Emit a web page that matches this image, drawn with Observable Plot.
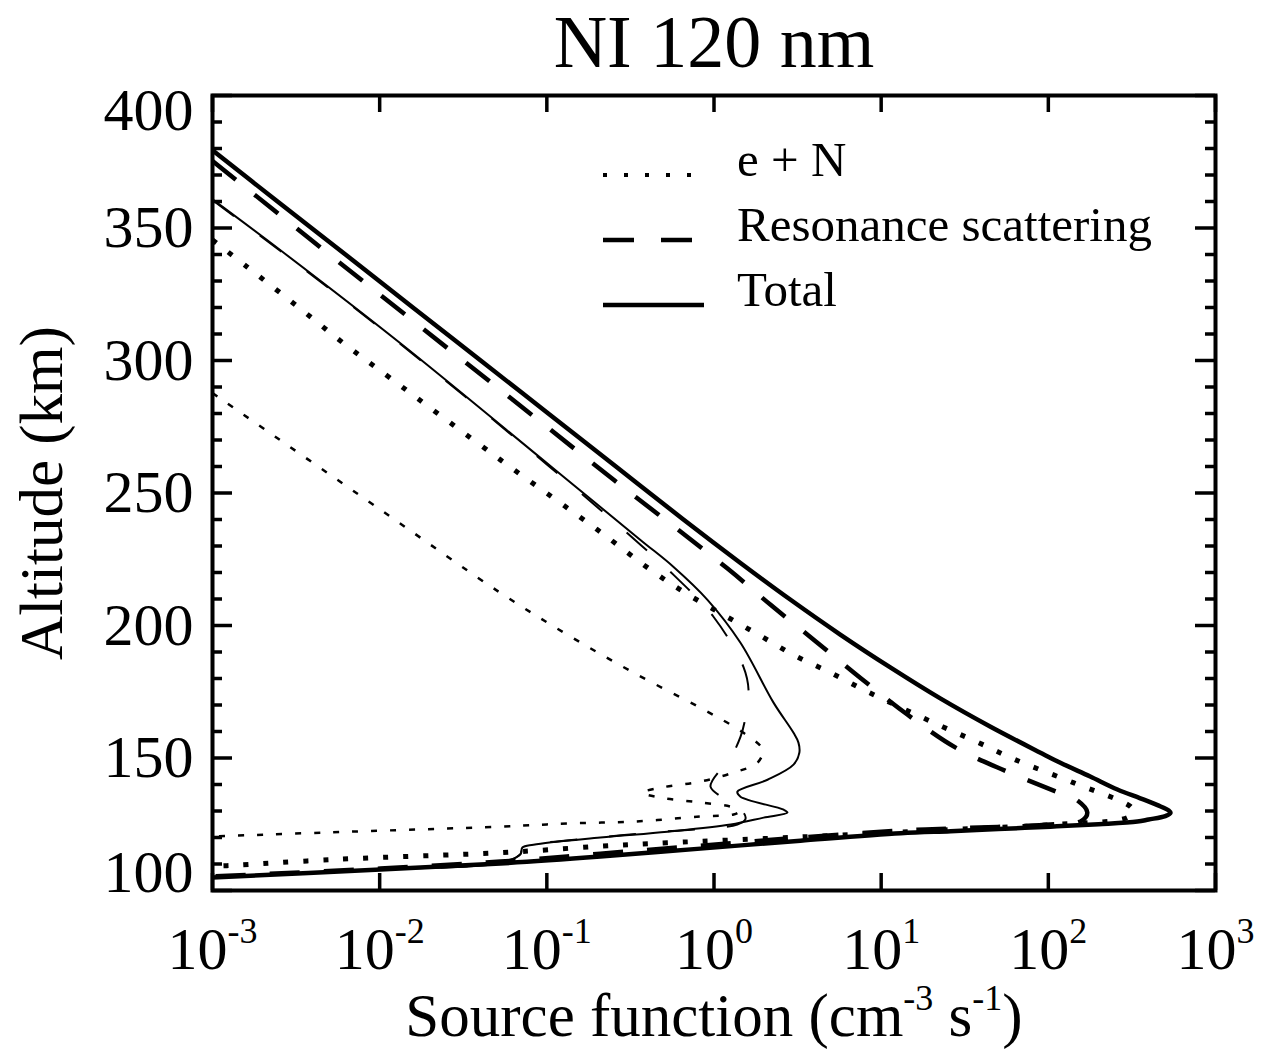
<!DOCTYPE html>
<html><head><meta charset="utf-8">
<script src="https://cdn.jsdelivr.net/npm/d3@7"></script>
<script src="https://cdn.jsdelivr.net/npm/@observablehq/plot@0.6"></script>
<style>
html,body{margin:0;padding:0;background:#fff;}
#chart{position:relative;width:1267px;height:1050px;}
svg{display:block;}
svg text{white-space:pre;}
</style></head><body><div id="chart"></div>
<script>
// ---- text ----
const chartTitle = "NI 120 nm";
const xTitle = "Source function (cm^{-3} s^{-1})";
const yTitle = "Altitude (km)";
const legendLabels = ["e + N", "Resonance scattering", "Total"];

// ---- ticks ----
const xTicks = [1e-3, 1e-2, 1e-1, 1, 1e1, 1e2, 1e3];
const xTickExp = ["-3", "-2", "-1", "0", "1", "2", "3"];
const yMajor = [100, 150, 200, 250, 300, 350, 400];
const yMinor = [110, 120, 130, 140, 160, 170, 180, 190, 210, 220, 230, 240, 260, 270, 280, 290, 310, 320, 330, 340, 360, 370, 380, 390];
const yLabelsMid = [150, 200, 250, 300, 350];
const yLabelTop = [400];
const yLabelBottom = [100];

// ---- series (thick = case 1, thin = case 2) ----
const totalA_val = [0.001, 0.00245, 0.00624, 0.0158, 0.0402, 0.102, 0.259, 0.656, 1.44, 2.87, 5.72, 11.4, 22.7, 45.1, 89.7, 118, 178, 259, 355, 450, 525, 538, 501, 398, 341, 200, 103, 50.1, 26.0, 13.1, 3.29, 0.830, 0.209, 0.0528, 0.0101, 0.001];
const totalA_alt = [379.3, 360, 340, 320, 300, 280, 260, 240, 223.6, 209.7, 196.5, 184.1, 172.4, 161.8, 152.0, 148.2, 143.0, 138.1, 134.8, 132.2, 130.2, 129.3, 128.1, 126.8, 126.0, 125.0, 124.1, 123.2, 122.4, 121.6, 118.8, 115.8, 112.8, 110.2, 107.9, 104.9];

const resA_val = [0.001, 0.00398, 0.0158, 0.0631, 0.251, 1.21, 2.18, 4.10, 7.62, 14.4, 27.9, 57.0, 123, 149, 171, 158, 103, 26.0, 13.1, 3.29, 0.830, 0.209, 0.0528, 0.0101, 0.001];
const resA_alt = [375.3, 345.0, 315.0, 285.0, 255.0, 221.4, 207.8, 193.8, 179.9, 166.3, 153.9, 144.8, 136.2, 134.0, 129.5, 126.3, 124.9, 123.4, 122.6, 120.0, 116.9, 113.9, 110.9, 108.3, 105.3];

const enA_val = [0.001, 0.00162, 0.00327, 0.00608, 0.0116, 0.0528, 0.200, 0.435, 0.703, 1.14, 1.85, 2.99, 4.98, 8.28, 14.0, 23.3, 38.2, 63.7, 141, 310, 323, 297, 103, 26.0, 3.29, 0.527, 0.209, 0.0832, 0.0507, 0.00530, 0.00125, 0.001];
const enA_alt = [345.5, 335.2, 320.1, 306.5, 293.3, 262.5, 236.2, 220.2, 211.6, 204.0, 196.5, 188.9, 182.2, 175.0, 168.2, 161.8, 155.8, 149.3, 140.7, 131.7, 129.8, 127.5, 124.8, 123.0, 120.2, 118.0, 116.7, 115.0, 114.2, 111.7, 109.4, 109.2];

const totalB_val = [0.001, 0.00255, 0.0133, 0.1, 0.363, 0.573, 0.914, 1.44, 2.27, 2.99, 3.20, 3.24, 2.99, 2.09, 1.38, 1.44, 2.61, 2.75, 1.98, 1.26, 0.527, 0.209, 0.0832, 0.0714, 0.0695, 0.0528, 0.0101, 0.001];
const totalB_alt = [360.8, 341.6, 306.5, 261.3, 232.3, 222.1, 209.7, 193.5, 170.9, 159.5, 155.8, 152.0, 147.5, 141.8, 137.3, 135.4, 130.5, 129.4, 127.5, 124.9, 122.2, 120.0, 117.3, 116.2, 113.6, 110.4, 107.9, 104.9];

const resB_val = [0.001, 0.00255, 0.0133, 0.1, 0.363, 0.573, 0.993, 1.50, 1.61, 1.52, 1.44, 1.21, 1.08, 0.953, 1.15, 1.26, 1.50, 1.54, 1.38, 0.527, 0.209, 0.0832, 0.0714, 0.0695, 0.0528, 0.0101, 0.001];
const resB_alt = [360.5, 341.3, 306.2, 260.8, 230.5, 219.1, 203.3, 184.4, 175.5, 163.3, 158.0, 148.2, 145.2, 139.2, 134.5, 131.7, 129.4, 126.8, 124.9, 122.3, 120.1, 117.4, 116.3, 113.7, 110.5, 108.0, 105.0];

const enB_val = [0.001, 0.01, 0.0528, 0.133, 0.330, 0.830, 1.50, 1.95, 1.82, 1.31, 0.830, 0.479, 0.373, 0.479, 0.830, 1.31, 1.41, 1.31, 0.830, 0.330, 0.133, 0.0528, 0.00670, 0.001];
const enB_alt = [287.7, 243.9, 212.3, 196.5, 182.2, 168.9, 159.5, 153.1, 148.2, 144.5, 141.1, 138.8, 136.9, 135.0, 133.2, 131.3, 129.8, 128.7, 127.9, 126.0, 125.3, 124.1, 122.2, 120.4];

const rows = (vals, alts) => vals.map((v, i) => ({x: v, y: alts[i]}));

const FONT = "'Liberation Serif', 'Times New Roman', Times, serif";
const W = 1267 - 212 - 52;   // frame width
const H = 1050 - 95 - 160;   // frame height

const lineOpts = (extra) => Object.assign({x: "x", y: "y", stroke: "black", fill: "none", curve: "catmull-rom", clip: true, strokeLinecap: "butt"}, extra);

const svg = Plot.plot({
  width: 1267,
  height: 1050,
  marginLeft: 212,
  marginRight: 52,
  marginTop: 95,
  marginBottom: 160,
  style: {fontFamily: FONT, background: "white", color: "black", overflow: "visible"},
  x: {type: "log", domain: [1e-3, 1e3], axis: null},
  y: {domain: [100, 400], axis: null},
  marks: [
    // thin curves
    Plot.line(rows(enB_val, enB_alt), lineOpts({strokeWidth: 2.5, strokeDasharray: "6,13"})),
    Plot.line(rows(resB_val, resB_alt), lineOpts({strokeWidth: 2, strokeDasharray: "27,32"})),
    Plot.line(rows(totalB_val, totalB_alt), lineOpts({strokeWidth: 2})),
    // thick curves
    Plot.line(rows(enA_val, enA_alt), lineOpts({strokeWidth: 5, strokeDasharray: "5,15"})),
    Plot.line(rows(resA_val, resA_alt), lineOpts({strokeWidth: 4.5, strokeDasharray: "30,24"})),
    Plot.line(rows(totalA_val, totalA_alt), lineOpts({strokeWidth: 4.5})),
    // ticks (inward)
    Plot.tickY(yMajor, {y: d => d, stroke: "black", strokeWidth: 3.5, insetRight: W - 20}),
    Plot.tickY(yMajor, {y: d => d, stroke: "black", strokeWidth: 3.5, insetLeft: W - 20}),
    Plot.tickY(yMinor, {y: d => d, stroke: "black", strokeWidth: 3.5, insetRight: W - 10}),
    Plot.tickY(yMinor, {y: d => d, stroke: "black", strokeWidth: 3.5, insetLeft: W - 10}),
    Plot.tickX(xTicks, {x: d => d, stroke: "black", strokeWidth: 3.5, insetTop: H - 17}),
    Plot.tickX(xTicks, {x: d => d, stroke: "black", strokeWidth: 3.5, insetBottom: H - 17}),
    Plot.frame({stroke: "black", strokeWidth: 4}),
    // tick labels
    Plot.text(xTicks, {x: d => d, text: (d, i) => `10^{${xTickExp[i]}}`, frameAnchor: "bottom", dy: 78, lineAnchor: "bottom", fontSize: 60}),
    Plot.text(yLabelsMid, {y: d => d, text: d => String(d), frameAnchor: "left", dx: -19, textAnchor: "end", lineAnchor: "middle", fontSize: 60}),
    Plot.text(yLabelTop, {y: d => d, text: d => String(d), frameAnchor: "left", dx: -19, dy: 15, textAnchor: "end", lineAnchor: "middle", fontSize: 60}),
    Plot.text(yLabelBottom, {y: d => d, text: d => String(d), frameAnchor: "left", dx: -19, dy: -18, textAnchor: "end", lineAnchor: "middle", fontSize: 60}),
    // titles
    Plot.text([chartTitle], {text: d => d, frameAnchor: "top", dy: -29, lineAnchor: "bottom", fontSize: 74}),
    Plot.text([xTitle], {text: d => d, frameAnchor: "bottom", dy: 145, lineAnchor: "bottom", fontSize: 61}),
    Plot.text([yTitle], {text: d => d, frameAnchor: "left", dx: -170, rotate: -90, textAnchor: "middle", lineAnchor: "middle", fontSize: 61})
  ]
});

// superscripts: "a^{b}c" -> tspans
const NS = "http://www.w3.org/2000/svg";
svg.querySelectorAll("text").forEach(t => {
  const s = t.textContent;
  if (!s.includes("^{")) return;
  t.textContent = "";
  const parts = s.split(/\^\{([^}]*)\}/);
  let raised = false;
  parts.forEach((p, i) => {
    if (!p) return;
    const ts = document.createElementNS(NS, "tspan");
    ts.textContent = p;
    if (i % 2 === 1) { ts.setAttribute("font-size", "36"); ts.setAttribute("dy", "-26"); raised = true; }
    else if (raised) { ts.setAttribute("dy", "26"); raised = false; }
    t.appendChild(ts);
  });
});

// legend (inside the frame, upper right)
const legendDash = ["4,17", "31,27", null];
const legendWidth = [4, 4.5, 4.5];
const leg = d3.select(svg).append("g")
  .attr("font-family", FONT).attr("font-size", 49).attr("fill", "black").attr("text-anchor", "start");
legendLabels.forEach((label, i) => {
  const yb = 176 + 65 * i;
  const ln = leg.append("line").attr("x1", 603).attr("x2", 704).attr("y1", yb - 1).attr("y2", yb - 1)
    .attr("stroke", "black").attr("stroke-width", legendWidth[i]);
  if (legendDash[i]) ln.attr("stroke-dasharray", legendDash[i]);
  leg.append("text").attr("x", 737).attr("y", yb).attr("text-anchor", "start").text(label);
});

document.getElementById("chart").appendChild(svg);
</script>
</body></html>
